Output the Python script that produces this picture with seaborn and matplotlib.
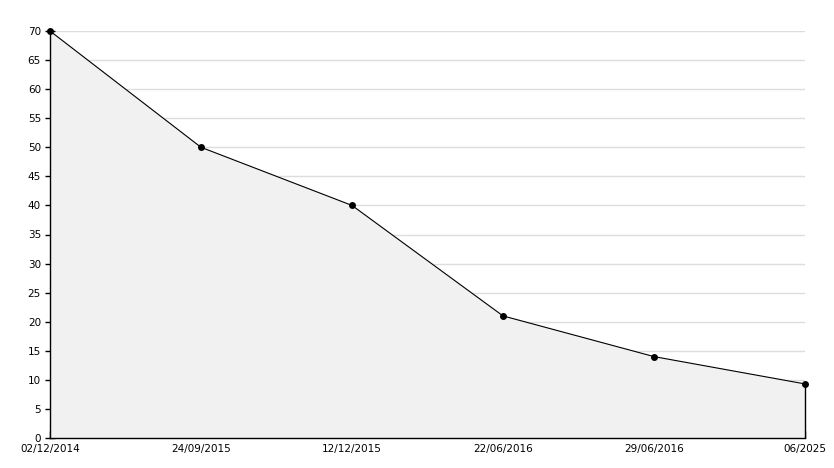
import numpy as np
import pandas as pd
import seaborn as sns
import matplotlib.pyplot as plt
from matplotlib.ticker import MultipleLocator

dates = ['02/12/2014', '24/09/2015', '12/12/2015', '22/06/2016', '29/06/2016', '06/2025']
values = [70, 50, 40, 21, 14, 9.3]

df = pd.DataFrame({'pos': np.arange(len(dates)), 'value': values})

sns.set_style('white')
plt.rcParams['font.family'] = ['DejaVu Sans']

fig = plt.figure(figsize=(8.34, 4.68), dpi=100)
ax = fig.add_axes([50 / 834, 30 / 468, 755 / 834, 407 / 468])

ax.fill_between(df['pos'], df['value'], 0, color='#f1f1f1', zorder=1)
# right edge of the filled area
ax.vlines(df['pos'].iloc[-1], 0, df['value'].iloc[-1], color='black', linewidth=1,
          zorder=2, clip_on=False)
sns.lineplot(data=df, x='pos', y='value', sort=False, color='black', linewidth=0.8,
             marker='o', markersize=5, markeredgewidth=0, ax=ax, zorder=3, clip_on=False)

ax.set_xlim(0, len(dates) - 1)
ax.set_ylim(0, 70)
ax.set_xticks(df['pos'])
ax.set_xticklabels(dates)
ax.yaxis.set_major_locator(MultipleLocator(5))
ax.yaxis.set_minor_locator(MultipleLocator(1))
ax.yaxis.grid(True, color='#dddddd', linewidth=1, zorder=0)
ax.set_axisbelow(True)
ax.set_xlabel('')
ax.set_ylabel('')

for s in ['top', 'right']:
    ax.spines[s].set_visible(False)
for s in ['left', 'bottom']:
    ax.spines[s].set_color('black')
    ax.spines[s].set_linewidth(1)

ax.tick_params(axis='y', which='major', direction='inout', length=7, width=1,
               labelsize=7.5, pad=3, left=True, colors='black')
ax.tick_params(axis='y', which='minor', direction='in', length=4, width=1, left=True, color='black')
ax.tick_params(axis='x', which='major', direction='in', length=5, width=1,
               labelsize=7.5, pad=4, bottom=True, colors='black')

fig.savefig('out.png', dpi=100)
